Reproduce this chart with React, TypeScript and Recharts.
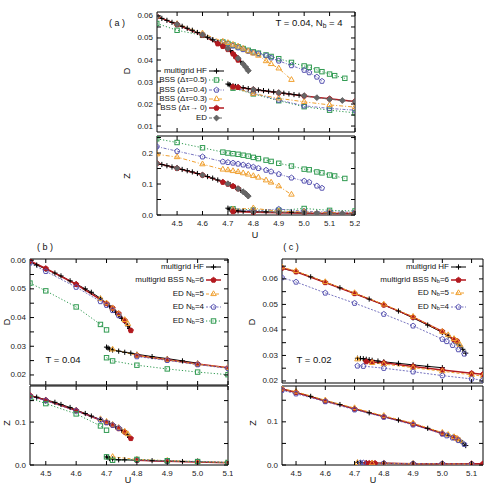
import React from "react";
import { LineChart, Line, XAxis, YAxis, ReferenceArea } from "recharts";

type Pt = [number, number];

// ---------- panel (a)  T = 0.04, Nb = 4 ----------
const aD_hf_up: Pt[] = [[4.42,0.0598],[4.44,0.0589],[4.46,0.058],[4.48,0.0571],[4.5,0.0562],[4.52,0.0553],[4.54,0.0544],[4.56,0.0535],[4.58,0.0525],[4.6,0.0514],[4.62,0.0503],[4.64,0.0492],[4.66,0.0479],[4.68,0.0466],[4.7,0.0452],[4.71,0.0443],[4.72,0.0432],[4.73,0.042],[4.74,0.0407],[4.75,0.0394],[4.76,0.0381],[4.77,0.0368],[4.775,0.036],[4.78,0.035]];
const aD_hf_lo: Pt[] = [[4.7,0.0291],[4.705,0.0288],[4.71,0.0285],[4.72,0.0282],[4.73,0.028],[4.74,0.0278],[4.76,0.0274],[4.78,0.027],[4.8,0.0267],[4.82,0.0264],[4.84,0.0261],[4.86,0.0258],[4.88,0.0255],[4.9,0.0252],[4.92,0.0249],[4.94,0.0246],[4.96,0.0243],[4.98,0.024],[5.0,0.0237]];
const aD_05_up: Pt[] = [[4.42,0.0566],[4.5,0.0535],[4.6,0.0512],[4.68,0.0482],[4.7,0.0475],[4.72,0.0468],[4.74,0.046],[4.76,0.0452],[4.78,0.0444],[4.8,0.0437],[4.82,0.0431],[4.85,0.0423],[4.87,0.0416],[4.9,0.0406],[4.95,0.0389],[5.0,0.0373],[5.02,0.0367],[5.05,0.0355],[5.07,0.0347],[5.1,0.0336],[5.12,0.0329],[5.16,0.0317]];
const aD_05_lo: Pt[] = [[4.72,0.0272],[4.8,0.0246],[4.9,0.0215],[5.0,0.0188],[5.1,0.0172],[5.2,0.016]];
const aD_04_up: Pt[] = [[4.42,0.0598],[4.5,0.0562],[4.6,0.0516],[4.68,0.048],[4.7,0.0472],[4.72,0.0464],[4.74,0.0456],[4.76,0.0448],[4.78,0.044],[4.8,0.0433],[4.82,0.0428],[4.85,0.042],[4.87,0.041],[4.9,0.0396],[4.95,0.0375],[5.0,0.0354],[5.02,0.0343],[5.05,0.0323],[5.07,0.0304]];
const aD_04_lo: Pt[] = [[4.72,0.0276],[4.8,0.0249],[4.9,0.0218],[5.0,0.0192],[5.1,0.018],[5.2,0.0172]];
const aD_03_up: Pt[] = [[4.42,0.0598],[4.5,0.0564],[4.6,0.0521],[4.68,0.0484],[4.7,0.0478],[4.72,0.047],[4.74,0.0462],[4.76,0.0452],[4.78,0.044],[4.8,0.043],[4.82,0.042],[4.85,0.0395],[4.87,0.0382],[4.9,0.0362],[4.95,0.031]];
const aD_03_lo: Pt[] = [[4.72,0.0276],[4.8,0.0247],[4.9,0.0226],[5.0,0.021],[5.1,0.0196],[5.2,0.0186]];
const aD_00_up: Pt[] = [[4.42,0.0598],[4.5,0.0561],[4.6,0.0512],[4.66,0.0474],[4.68,0.0462],[4.7,0.0448],[4.72,0.0428],[4.73,0.0415],[4.74,0.04]];
const aD_00_lo: Pt[] = [[4.72,0.0279],[4.74,0.0276],[4.8,0.0266],[4.9,0.0251],[5.0,0.0237],[5.1,0.0224],[5.2,0.0212]];
const aD_ed_up: Pt[] = [[4.42,0.0598],[4.5,0.0562],[4.6,0.0514],[4.7,0.0452],[4.74,0.0408],[4.76,0.0382],[4.77,0.0368],[4.78,0.0352]];
const aD_ed_lo: Pt[] = [[4.8,0.0266],[4.9,0.0252],[5.0,0.0238],[5.05,0.0229],[5.1,0.0222],[5.15,0.0216],[5.2,0.0211]];

const aZ_hf_up: Pt[] = [[4.42,0.167],[4.44,0.163],[4.46,0.159],[4.48,0.155],[4.5,0.151],[4.52,0.147],[4.54,0.143],[4.56,0.139],[4.58,0.134],[4.6,0.129],[4.62,0.124],[4.64,0.119],[4.66,0.113],[4.68,0.107],[4.7,0.101],[4.71,0.097],[4.72,0.093],[4.73,0.089],[4.74,0.085],[4.75,0.08],[4.76,0.075],[4.77,0.069],[4.775,0.066],[4.78,0.061]];
const aZ_hf_lo: Pt[] = [[4.7,0.022],[4.705,0.019],[4.71,0.017],[4.72,0.015],[4.73,0.014],[4.74,0.013],[4.76,0.012],[4.8,0.011],[4.85,0.01],[4.9,0.009],[4.95,0.009],[5.0,0.008]];
const aZ_05_up: Pt[] = [[4.42,0.246],[4.5,0.234],[4.6,0.217],[4.68,0.203],[4.7,0.2],[4.72,0.198],[4.74,0.196],[4.76,0.193],[4.78,0.19],[4.8,0.186],[4.82,0.182],[4.85,0.177],[4.87,0.173],[4.9,0.167],[4.95,0.158],[5.0,0.148],[5.02,0.146],[5.05,0.139],[5.07,0.136],[5.1,0.129],[5.12,0.126],[5.16,0.118]];
const aZ_05_lo: Pt[] = [[4.72,0.02],[4.8,0.016],[4.9,0.015],[5.0,0.021],[5.1,0.015],[5.2,0.013]];
const aZ_04_up: Pt[] = [[4.42,0.221],[4.5,0.206],[4.6,0.188],[4.68,0.172],[4.7,0.17],[4.72,0.168],[4.74,0.165],[4.76,0.162],[4.78,0.159],[4.8,0.155],[4.82,0.151],[4.85,0.145],[4.87,0.14],[4.9,0.132],[4.95,0.12],[5.0,0.11],[5.02,0.106],[5.05,0.094],[5.07,0.087]];
const aZ_04_lo: Pt[] = [[4.72,0.017],[4.8,0.014],[4.9,0.019],[5.0,0.012],[5.1,0.01],[5.2,0.009]];
const aZ_03_up: Pt[] = [[4.42,0.196],[4.5,0.187],[4.6,0.164],[4.68,0.147],[4.7,0.145],[4.72,0.142],[4.74,0.139],[4.76,0.135],[4.78,0.131],[4.8,0.126],[4.82,0.121],[4.85,0.112],[4.87,0.105],[4.9,0.093],[4.95,0.066]];
const aZ_03_lo: Pt[] = [[4.72,0.018],[4.8,0.022],[4.9,0.012],[5.0,0.01],[5.1,0.008],[5.2,0.007]];
const aZ_00_up: Pt[] = [[4.42,0.167],[4.5,0.151],[4.6,0.129],[4.68,0.106],[4.7,0.1],[4.72,0.093],[4.74,0.085]];
const aZ_00_lo: Pt[] = [[4.72,0.011],[4.8,0.009],[4.9,0.007],[5.0,0.006],[5.1,0.005],[5.2,0.005]];
const aZ_ed_up: Pt[] = [[4.42,0.167],[4.5,0.151],[4.6,0.129],[4.7,0.101],[4.74,0.085],[4.76,0.075],[4.77,0.069],[4.78,0.061]];
const aZ_ed_lo: Pt[] = [[4.8,0.01],[4.9,0.008],[5.0,0.007],[5.05,0.006],[5.1,0.005],[5.15,0.005],[5.2,0.005]];

// ---------- panel (b)  T = 0.04 ----------
const bD_hf_up: Pt[] = [[4.448,0.0594],[4.47,0.0583],[4.5,0.0569],[4.53,0.0555],[4.55,0.0545],[4.58,0.0528],[4.6,0.0517],[4.63,0.05],[4.65,0.0488],[4.68,0.0467],[4.7,0.0451],[4.71,0.044],[4.72,0.0428],[4.73,0.0418],[4.74,0.0407],[4.75,0.0397],[4.76,0.0386],[4.77,0.0371],[4.776,0.0362]];
const bD_hf_lo: Pt[] = [[4.7,0.0297],[4.705,0.0294],[4.71,0.029],[4.72,0.0287],[4.74,0.0283],[4.76,0.0279],[4.78,0.0276],[4.8,0.0272],[4.85,0.0264],[4.9,0.0257],[4.95,0.0249],[5.0,0.0241]];
const bD_n6_up: Pt[] = [[4.448,0.0597],[4.5,0.0571],[4.6,0.0516],[4.7,0.0449],[4.72,0.0433],[4.74,0.0414],[4.76,0.039],[4.78,0.0355]];
const bD_n6_lo: Pt[] = [[4.8,0.0268],[4.9,0.0253],[5.0,0.0238],[5.1,0.0225]];
const bD_n5_up: Pt[] = [[4.68,0.0465],[4.7,0.045],[4.72,0.0432],[4.74,0.0413],[4.76,0.0392],[4.77,0.0378]];
const bD_n5_lo: Pt[] = [[4.72,0.0289],[4.8,0.0268],[4.9,0.0253],[5.0,0.0237],[5.1,0.0225]];
const bD_n4_up: Pt[] = [[4.448,0.059],[4.5,0.0561],[4.6,0.0506],[4.68,0.0456],[4.7,0.0443],[4.72,0.0425],[4.74,0.0407]];
const bD_n4_lo: Pt[] = [[4.8,0.0264],[4.9,0.0251],[5.0,0.0236],[5.1,0.0223]];
const bD_n3_up: Pt[] = [[4.448,0.052],[4.5,0.0493],[4.6,0.0437],[4.68,0.0376],[4.7,0.0357]];
const bD_n3_lo: Pt[] = [[4.7,0.026],[4.72,0.0249],[4.8,0.0234],[4.9,0.0221],[5.0,0.021],[5.1,0.0201]];

const bZ_hf_up: Pt[] = [[4.448,0.162],[4.47,0.158],[4.5,0.152],[4.53,0.146],[4.55,0.141],[4.58,0.134],[4.6,0.128],[4.63,0.12],[4.65,0.114],[4.68,0.106],[4.7,0.1],[4.71,0.097],[4.72,0.093],[4.73,0.089],[4.74,0.085],[4.75,0.081],[4.76,0.077],[4.77,0.07],[4.776,0.064]];
const bZ_hf_lo: Pt[] = [[4.7,0.019],[4.705,0.017],[4.71,0.015],[4.72,0.014],[4.74,0.012],[4.76,0.012],[4.8,0.011],[4.85,0.01],[4.9,0.009],[4.95,0.008],[5.0,0.008]];
const bZ_n6_up: Pt[] = [[4.448,0.162],[4.5,0.151],[4.6,0.127],[4.7,0.099],[4.72,0.093],[4.74,0.085],[4.76,0.077],[4.78,0.062]];
const bZ_n6_lo: Pt[] = [[4.8,0.011],[4.9,0.009],[5.0,0.007],[5.1,0.005]];
const bZ_n5_up: Pt[] = [[4.68,0.107],[4.7,0.101],[4.72,0.094],[4.74,0.087],[4.76,0.078],[4.77,0.072]];
const bZ_n5_lo: Pt[] = [[4.72,0.019],[4.8,0.013],[4.9,0.01],[5.0,0.008],[5.1,0.006]];
const bZ_n4_up: Pt[] = [[4.448,0.16],[4.5,0.15],[4.6,0.126],[4.68,0.105],[4.7,0.099],[4.72,0.093],[4.74,0.086]];
const bZ_n4_lo: Pt[] = [[4.8,0.012],[4.9,0.009],[5.0,0.008],[5.1,0.006]];
const bZ_n3_up: Pt[] = [[4.448,0.156],[4.5,0.143],[4.6,0.119],[4.68,0.091],[4.7,0.081]];
const bZ_n3_lo: Pt[] = [[4.7,0.019],[4.72,0.011],[4.8,0.013],[4.9,0.01],[5.0,0.008],[5.1,0.006]];

// ---------- panel (c)  T = 0.02 ----------
const cD_hf_up: Pt[] = [[4.452,0.0641],[4.5,0.0629],[4.55,0.0608],[4.6,0.0587],[4.65,0.0565],[4.7,0.0543],[4.75,0.0521],[4.8,0.0498],[4.85,0.0474],[4.9,0.0447],[4.95,0.0419],[5.0,0.039],[5.02,0.0376],[5.04,0.0358],[5.05,0.0349],[5.06,0.0337],[5.07,0.0324],[5.08,0.0309]];
const cD_hf_lo: Pt[] = [[4.71,0.0289],[4.72,0.0288],[4.73,0.0287],[4.74,0.0285],[4.75,0.0283],[4.76,0.0281],[4.78,0.0278],[4.8,0.0275],[4.85,0.0269],[4.9,0.0263],[4.95,0.0257],[5.0,0.0252]];
const cD_n6_up: Pt[] = [[4.452,0.0643],[4.5,0.0628],[4.6,0.0586],[4.7,0.0543],[4.8,0.0498],[4.9,0.045],[5.0,0.0394],[5.04,0.0362],[5.05,0.0357]];
const cD_n6_lo: Pt[] = [[4.74,0.0276],[4.76,0.0273],[4.8,0.0271],[4.9,0.0257],[5.0,0.0243],[5.1,0.023],[5.139,0.0226]];
const cD_n5_up: Pt[] = [[4.452,0.0646],[4.5,0.0631],[4.6,0.0588],[4.7,0.0545],[4.8,0.05],[4.9,0.0452],[5.0,0.0393],[5.02,0.038],[5.04,0.0365],[5.05,0.0355],[5.06,0.0342]];
const cD_n5_lo: Pt[] = [[4.71,0.0285],[4.76,0.0271],[4.8,0.0266],[4.9,0.0252],[5.0,0.0238],[5.1,0.0224],[5.139,0.0219]];
const cD_n4_up: Pt[] = [[4.452,0.0605],[4.5,0.0588],[4.6,0.0545],[4.7,0.0505],[4.8,0.0462],[4.9,0.0416],[5.0,0.0364],[5.015,0.0355],[5.035,0.034],[5.055,0.0323],[5.075,0.0306]];
const cD_n4_lo: Pt[] = [[4.71,0.0259],[4.73,0.0258],[4.8,0.025],[4.9,0.0236],[5.0,0.0221],[5.1,0.0208],[5.139,0.0204]];

const cZ_hf_up: Pt[] = [[4.452,0.176],[4.5,0.168],[4.55,0.159],[4.6,0.149],[4.65,0.14],[4.7,0.13],[4.75,0.121],[4.8,0.112],[4.85,0.104],[4.9,0.095],[4.95,0.085],[5.0,0.074],[5.02,0.069],[5.04,0.064],[5.05,0.061],[5.06,0.057],[5.07,0.051],[5.08,0.045]];
const cZ_hf_lo: Pt[] = [[4.71,0.006],[4.72,0.005],[4.74,0.005],[4.76,0.004],[4.8,0.004],[4.9,0.003],[5.0,0.003]];
const cZ_n6_up: Pt[] = [[4.452,0.176],[4.5,0.168],[4.6,0.148],[4.7,0.13],[4.8,0.112],[4.9,0.095],[5.0,0.073],[5.04,0.064],[5.05,0.061]];
const cZ_n6_lo: Pt[] = [[4.74,0.004],[4.75,0.004],[4.76,0.004],[4.77,0.004],[4.8,0.004],[4.9,0.003],[5.0,0.003],[5.1,0.003],[5.139,0.003]];
const cZ_n5_up: Pt[] = [[4.452,0.177],[4.5,0.17],[4.6,0.15],[4.7,0.132],[4.8,0.114],[4.9,0.097],[5.0,0.075],[5.02,0.07],[5.04,0.065],[5.05,0.061],[5.06,0.056]];
const cZ_n5_lo: Pt[] = [[4.71,0.005],[4.76,0.004],[4.8,0.004],[4.9,0.003],[5.0,0.003],[5.1,0.002]];
const cZ_n4_up: Pt[] = [[4.452,0.173],[4.5,0.165],[4.6,0.147],[4.7,0.128],[4.8,0.111],[4.9,0.093],[5.0,0.072],[5.015,0.068],[5.035,0.063],[5.055,0.057],[5.075,0.048]];
const cZ_n4_lo: Pt[] = [[4.72,0.005],[4.73,0.005],[4.8,0.004],[4.9,0.003],[5.0,0.003],[5.1,0.002]];

// ticks
const aXTicks = [4.5, 4.6, 4.7, 4.8, 4.9, 5.0, 5.1, 5.2];
const bcXTicks = [4.5, 4.6, 4.7, 4.8, 4.9, 5.0, 5.1];
const aDTicks = [0.01, 0.015, 0.02, 0.025, 0.03, 0.035, 0.04, 0.045, 0.05, 0.055, 0.06];
const aZTicks = [0, 0.05, 0.1, 0.15, 0.2, 0.25];
const bDTicks = [0.02, 0.025, 0.03, 0.035, 0.04, 0.045, 0.05, 0.055, 0.06];
const cDTicks = [0.02, 0.025, 0.03, 0.035, 0.04, 0.045, 0.05, 0.055, 0.06, 0.065];
const bcZTicks = [0, 0.05, 0.1, 0.15];

type Kind = "plus" | "square" | "pent" | "pentFill" | "tri" | "diamond";
type Style = { color: string; dash?: string; w: number; mark: Kind };
type Series = Style & { pts: Pt[] };

const FONT = "'Liberation Sans', Arial, sans-serif";

const HF: Style = { color: "#000000", w: 1, mark: "plus" };
const T05: Style = { color: "#2f9a50", dash: "1.2 2", w: 1, mark: "square" };
const T04: Style = { color: "#5652b0", dash: "3 1.5 1 1.5", w: 0.8, mark: "pent" };
const T03: Style = { color: "#f0a030", dash: "4 2 1 2", w: 1, mark: "tri" };
const T00: Style = { color: "#b3191f", w: 1.5, mark: "pentFill" };
const ED: Style = { color: "#666666", dash: "3 2", w: 1, mark: "diamond" };
const N6: Style = { color: "#b3191f", w: 1.5, mark: "pentFill" };
const N5: Style = { color: "#f0a030", dash: "3 2", w: 1, mark: "tri" };
const N4: Style = { color: "#5652b0", dash: "2 1.5", w: 0.8, mark: "pent" };
const N3: Style = { color: "#2f9a50", dash: "1.2 2", w: 1, mark: "square" };

const rows = (pts: Pt[]) => pts.map(([u, v]) => ({ u, v }));
const both = (s: Style, up: Pt[], lo: Pt[]): Series[] => [{ ...s, pts: up }, { ...s, pts: lo }];

function Mark({ kind, x, y, c }: { kind: Kind; x: number; y: number; c: string }) {
  if (kind === "plus") {
    return (
      <g stroke={c} strokeWidth={1}>
        <line x1={x - 2.6} x2={x + 2.6} y1={y} y2={y} />
        <line x1={x} x2={x} y1={y - 2.6} y2={y + 2.6} />
      </g>
    );
  }
  if (kind === "square") {
    return <rect x={x - 2.2} y={y - 2.2} width={4.4} height={4.4} fill="none" stroke={c} strokeWidth={1} />;
  }
  if (kind === "tri") {
    const r = 3.2;
    const p = [0, 1, 2].map((k) => {
      const a = -Math.PI / 2 + (k * 2 * Math.PI) / 3;
      return `${x + r * Math.cos(a)},${y + r * Math.sin(a)}`;
    });
    return <polygon points={p.join(" ")} fill="none" stroke={c} strokeWidth={1} />;
  }
  if (kind === "diamond") {
    const r = 2.9;
    return <polygon points={`${x},${y - r} ${x + r},${y} ${x},${y + r} ${x - r},${y}`} fill={c} stroke={c} />;
  }
  const r = 2.7;
  const p = [0, 1, 2, 3, 4].map((k) => {
    const a = -Math.PI / 2 + (k * 2 * Math.PI) / 5;
    return `${x + r * Math.cos(a)},${y + r * Math.sin(a)}`;
  });
  return <polygon points={p.join(" ")} fill={kind === "pentFill" ? c : "none"} stroke={c} strokeWidth={1} />;
}

const isMajor = (v: number, step: number) => Math.abs(v / step - Math.round(v / step)) < 1e-6;

type SubProps = {
  left: number; top: number; w: number; h: number;
  xDom: [number, number]; yDom: [number, number];
  xTicks: number[]; yTicks: number[];
  yStep: number; yDigits: number; xLabels: boolean;
  series: Series[];
};

function Sub({ left, top, w, h, xDom, yDom, xTicks, yTicks, yStep, yDigits, xLabels, series }: SubProps) {
  const padL = 40, padT = 4, padR = 5, padB = xLabels ? 16 : 5;
  const W = padL + w + padR, H = padT + h + padB;
  const L = padL, R = padL + w, T = padT, B = padT + h;

  const xTick = (p: any) => (
    <g key={`x${p.index}`}>
      <line x1={p.x} x2={p.x} y1={B} y2={B - 4} stroke="#000" />
      <line x1={p.x} x2={p.x} y1={T} y2={T + 4} stroke="#000" />
      {xLabels && (
        <text x={p.x} y={B + 8.5} fontSize={8} textAnchor="middle" dominantBaseline="central" fill="#222">
          {Number(p.payload.value).toFixed(1)}
        </text>
      )}
    </g>
  );
  const yTick = (p: any) => {
    const v = Number(p.payload.value);
    return (
      <g key={`y${p.index}`}>
        <line x1={L} x2={L + 4} y1={p.y} y2={p.y} stroke="#000" />
        <line x1={R} x2={R - 4} y1={p.y} y2={p.y} stroke="#000" />
        {isMajor(v, yStep) && (
          <text x={L - 4} y={p.y} fontSize={8} textAnchor="end" dominantBaseline="central" fill="#222">
            {v.toFixed(yDigits)}
          </text>
        )}
      </g>
    );
  };

  return (
    <div style={{ position: "absolute", left: left - padL, top: top - padT }}>
      <LineChart width={W} height={H} margin={{ top: padT, right: padR, bottom: 0, left: 0 }}>
        <XAxis dataKey="u" type="number" domain={xDom} allowDataOverflow ticks={xTicks} interval={0}
          tick={xTick} tickLine={false} axisLine={false} height={padB} />
        <YAxis type="number" domain={yDom} allowDataOverflow ticks={yTicks} interval={0}
          tick={yTick} tickLine={false} axisLine={false} width={padL} />
        <ReferenceArea x1={xDom[0]} x2={xDom[1]} y1={yDom[0]} y2={yDom[1]} fill="none"
          stroke="#000" strokeWidth={1} ifOverflow="visible" />
        {series.map((s, i) => (
          <Line key={i} data={rows(s.pts)} dataKey="v" type="linear" stroke={s.color}
            strokeWidth={s.w} strokeDasharray={s.dash} isAnimationActive={false} legendType="none"
            dot={(p: any) => <Mark key={`d${i}-${p.index}`} kind={s.mark} x={p.cx} y={p.cy} c={s.color} />}
            activeDot={false} />
        ))}
      </LineChart>
    </div>
  );
}

function Legend({ items, right, top, step, fs }: { items: [React.ReactNode, Style][]; right: number; top: number; step: number; fs: number }) {
  return (
    <>
      {items.map(([label, s], i) => {
        const y = top + i * step;
        return (
          <React.Fragment key={i}>
            <div style={{ position: "absolute", left: right - 160, width: 160, top: y - 6, height: 12,
              lineHeight: "12px", textAlign: "right", fontSize: fs, color: "#111", whiteSpace: "nowrap" }}>
              {label}
            </div>
            <svg style={{ position: "absolute", left: right + 2, top: y - 6 }} width={15} height={12}>
              <line x1={0} x2={15} y1={6} y2={6} stroke={s.color} strokeWidth={s.w} strokeDasharray={s.dash} />
              <Mark kind={s.mark} x={7.5} y={6} c={s.color} />
            </svg>
          </React.Fragment>
        );
      })}
    </>
  );
}

const Nb = (n: string) => (
  <span>N<sub style={{ fontSize: "0.7em", verticalAlign: "-0.25em" }}>b</sub>{n}</span>
);

function Label({ x, y, children, size = 9, rot = false }: { x: number; y: number; children: React.ReactNode; size?: number; rot?: boolean }) {
  const hh = size + 3;
  return (
    <div style={{ position: "absolute", left: x - 60, top: y - hh / 2, width: 120, height: hh, lineHeight: `${hh}px`,
      textAlign: "center", fontSize: size, color: "#111", whiteSpace: "nowrap",
      transform: rot ? "rotate(-90deg)" : undefined }}>
      {children}
    </div>
  );
}

export default function App() {
  const aSeries = (d: boolean): Series[] => d
    ? [...both(HF, aD_hf_up, aD_hf_lo), ...both(T05, aD_05_up, aD_05_lo), ...both(T04, aD_04_up, aD_04_lo),
       ...both(T03, aD_03_up, aD_03_lo), ...both(T00, aD_00_up, aD_00_lo), ...both(ED, aD_ed_up, aD_ed_lo)]
    : [...both(HF, aZ_hf_up, aZ_hf_lo), ...both(T05, aZ_05_up, aZ_05_lo), ...both(T04, aZ_04_up, aZ_04_lo),
       ...both(T03, aZ_03_up, aZ_03_lo), ...both(T00, aZ_00_up, aZ_00_lo), ...both(ED, aZ_ed_up, aZ_ed_lo)];
  const bD: Series[] = [...both(HF, bD_hf_up, bD_hf_lo), ...both(N6, bD_n6_up, bD_n6_lo), ...both(N5, bD_n5_up, bD_n5_lo),
    ...both(N4, bD_n4_up, bD_n4_lo), ...both(N3, bD_n3_up, bD_n3_lo)];
  const bZ: Series[] = [...both(HF, bZ_hf_up, bZ_hf_lo), ...both(N6, bZ_n6_up, bZ_n6_lo), ...both(N5, bZ_n5_up, bZ_n5_lo),
    ...both(N4, bZ_n4_up, bZ_n4_lo), ...both(N3, bZ_n3_up, bZ_n3_lo)];
  const cD: Series[] = [...both(HF, cD_hf_up, cD_hf_lo), ...both(N6, cD_n6_up, cD_n6_lo), ...both(N5, cD_n5_up, cD_n5_lo),
    ...both(N4, cD_n4_up, cD_n4_lo)];
  const cZ: Series[] = [...both(HF, cZ_hf_up, cZ_hf_lo), ...both(N6, cZ_n6_up, cZ_n6_lo), ...both(N5, cZ_n5_up, cZ_n5_lo),
    ...both(N4, cZ_n4_up, cZ_n4_lo)];

  return (
    <div style={{ position: "absolute", left: 0, top: 0, width: 487, height: 486, background: "#fff",
      fontFamily: FONT, overflow: "hidden" }}>
      {/* (a) */}
      <Sub left={157} top={12} w={198} h={120} xDom={[4.421, 5.2]} yDom={[0.0073, 0.0618]}
        xTicks={aXTicks} yTicks={aDTicks} yStep={0.01} yDigits={2} xLabels={false} series={aSeries(true)} />
      <Sub left={157} top={136} w={198} h={79} xDom={[4.421, 5.2]} yDom={[0, 0.255]}
        xTicks={aXTicks} yTicks={aZTicks} yStep={0.1} yDigits={1} xLabels={true} series={aSeries(false)} />
      <Legend right={207} top={71} step={9.3} fs={8} items={[
        ["multigrid HF", HF], ["BSS (Δτ=0.5)", T05], ["BSS (Δτ=0.4)", T04],
        ["BSS (Δτ=0.3)", T03], ["BSS (Δτ→ 0)", T00], ["ED", ED]]} />
      <Label x={309} y={23} size={9.5}><span>T = 0.04, {Nb(" = 4")}</span></Label>
      <Label x={117} y={23}>( a )</Label>
      <Label x={127} y={71} rot>D</Label>
      <Label x={127} y={176} rot>Z</Label>
      <Label x={255} y={235}>U</Label>

      {/* (b) */}
      <Sub left={30} top={259} w={198} h={126} xDom={[4.448, 5.1]} yDom={[0.0165, 0.0604]}
        xTicks={bcXTicks} yTicks={bDTicks} yStep={0.01} yDigits={2} xLabels={false} series={bD} />
      <Sub left={30} top={386} w={198} h={79} xDom={[4.448, 5.1]} yDom={[0, 0.184]}
        xTicks={bcXTicks} yTicks={bcZTicks} yStep={0.1} yDigits={1} xLabels={true} series={bZ} />
      <Legend right={204} top={267} step={13.4} fs={8} items={[
        ["multigrid HF", HF], [<span>multigrid BSS {Nb("=6")}</span>, N6], [<span>ED {Nb("=5")}</span>, N5],
        [<span>ED {Nb("=4")}</span>, N4], [<span>ED {Nb("=3")}</span>, N3]]} />
      <Label x={63} y={360} size={9.5}>T = 0.04</Label>
      <Label x={45} y={247}>( b )</Label>
      <Label x={7} y={322} rot>D</Label>
      <Label x={7} y={423} rot>Z</Label>
      <Label x={128} y={480}>U</Label>

      {/* (c) */}
      <Sub left={282} top={259} w={201} h={124} xDom={[4.452, 5.139]} yDom={[0.0192, 0.0678]}
        xTicks={bcXTicks} yTicks={cDTicks} yStep={0.01} yDigits={2} xLabels={false} series={cD} />
      <Sub left={282} top={386} w={201} h={79} xDom={[4.452, 5.139]} yDom={[0, 0.183]}
        xTicks={bcXTicks} yTicks={bcZTicks} yStep={0.1} yDigits={1} xLabels={true} series={cZ} />
      <Legend right={449} top={267} step={13.2} fs={8} items={[
        ["multigrid HF", HF], [<span>multigrid BSS {Nb("=6")}</span>, N6], [<span>ED {Nb("=5")}</span>, N5],
        [<span>ED {Nb("=4")}</span>, N4]]} />
      <Label x={314} y={360} size={9.5}>T = 0.02</Label>
      <Label x={291} y={247}>( c )</Label>
      <Label x={252} y={322} rot>D</Label>
      <Label x={253} y={423} rot>Z</Label>
      <Label x={373} y={480}>U</Label>
    </div>
  );
}
